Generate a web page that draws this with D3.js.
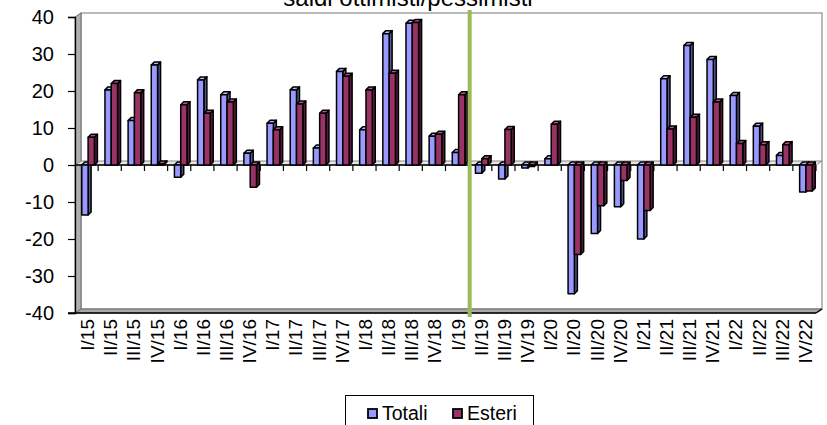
<!DOCTYPE html>
<html><head><meta charset="utf-8">
<script src="https://cdn.jsdelivr.net/npm/d3@7"></script>
<style>body{margin:0;background:#fff}svg{display:block}</style>
</head><body><svg id="c" width="827" height="425"></svg>
<script>
const title = "saldi ottimisti/pessimisti";
const categories = ["I/15","II/15","III/15","IV/15","I/16","II/16","III/16","IV/16","I/17","II/17","III/17","IV/17","I/18","II/18","III/18","IV/18","I/19","II/19","III/19","IV/19","I/20","II/20","III/20","IV/20","I/21","II/21","III/21","IV/21","I/22","II/22","III/22","IV/22"];
const totali = [-13.5,20.3,12,27,-3.3,23,19,3.2,11.3,20.3,4.6,25.3,9.5,35.5,38.3,7.8,3.4,-2.2,-3.8,-0.8,1.7,-34.8,-18.5,-11.3,-20,23.3,32.3,28.5,18.8,10.5,2.6,-7.3];
const esteri = [7.5,22,19.5,0.3,16.3,14,17,-6,9.5,16.5,14,24,20.3,24.8,38.5,8.3,19,1.7,9.6,-0.4,11,-24.2,-11,-4.2,-12.3,9.7,12.9,17,5.8,5.5,5.5,-7];
const yTicks = [-40,-30,-20,-10,0,10,20,30,40];
const seriesNames = ["Totali","Esteri"];
const markerLine = "II/19";

const svg = d3.select("#c");
const font = "Arial, 'Liberation Sans', sans-serif";
const L = 75, R = 816, T = 17, B = 313, DX = 6, DY = 4;
const y = d3.scaleLinear().domain([-40,40]).range([B,T]);
const x = d3.scaleBand().domain(categories).range([L,R]).padding(0);
const y0 = y(0);

// back wall
svg.append("rect").attr("x",L+DX).attr("y",T-DY).attr("width",R-L).attr("height",B-T)
  .attr("fill","#fff").attr("stroke","#8c8c8c").attr("stroke-width",1.2);
// left wall
svg.append("polygon").attr("points",[[L,T],[L+DX,T-DY],[L+DX,B-DY],[L,B]].join(" "))
  .attr("fill","#b0b0b0").attr("stroke","#6e6e6e").attr("stroke-width",1);
// floor
svg.append("polygon").attr("points",[[L,B],[L+DX,B-DY],[R+DX,B-DY],[R,B]].join(" "))
  .attr("fill","#a8a8a8").attr("stroke","#6e6e6e").attr("stroke-width",1);
// zero plane
svg.append("polygon").attr("points",[[L,y0],[L+DX,y0-DY],[R+DX,y0-DY],[R,y0]].join(" "))
  .attr("fill","#e6e6e6").attr("stroke","#8a8a8a").attr("stroke-width",1);
svg.append("line").attr("x1",L).attr("x2",R).attr("y1",y0).attr("y2",y0).attr("stroke","#000").attr("stroke-width",1.4);

// axes
const yAxis = d3.axisLeft(y).tickValues(yTicks).tickSize(7).tickFormat(d=>String(d));
const ya = svg.append("g").attr("transform",`translate(${L},0)`).call(yAxis);
ya.select(".domain").attr("stroke","#000").attr("stroke-width",1.3);
ya.selectAll(".tick line").attr("stroke","#000").attr("stroke-width",1.2);
ya.selectAll(".tick text").attr("font-family",font).attr("font-size",20).attr("fill","#000").attr("x",-21);
svg.append("line").attr("x1",L-7).attr("x2",R).attr("y1",B).attr("y2",B).attr("stroke","#000").attr("stroke-width",1.5);
svg.append("line").attr("x1",R).attr("x2",R+DX).attr("y1",B).attr("y2",B-DY).attr("stroke","#000").attr("stroke-width",1.5);

// category ticks on zero line
svg.append("g").selectAll("line").data(categories).join("line")
  .attr("x1",d=>x(d)+x.bandwidth()).attr("x2",d=>x(d)+x.bandwidth())
  .attr("y1",y0).attr("y2",y0+6).attr("stroke","#000").attr("stroke-width",1.2);

// bars
const bw = 6.3, bd = 3;
const cols = [
  {front:"#9999ff", top:"#b8b8ff", side:"#55558f"},
  {front:"#993366", top:"#b85585", side:"#571b3a"}
];
const data = categories.map((c,i)=>({c, vals:[totali[i], esteri[i]]}));
const gBars = svg.append("g");
data.forEach(d=>{
  d.vals.forEach((v,k)=>{
    const x0 = x(d.c) + 6.8 + k*bw;
    const yt = Math.min(y(v), y0), yb = Math.max(y(v), y0);
    const col = cols[k];
    const g = gBars.append("g").attr("stroke","#000").attr("stroke-width",1.5).attr("stroke-linejoin","round");
    g.append("polygon").attr("points",[[x0+bw,yt],[x0+bw+bd,yt-bd],[x0+bw+bd,yb-bd],[x0+bw,yb]].join(" ")).attr("fill",col.side);
    g.append("polygon").attr("points",[[x0,yt],[x0+bd,yt-bd],[x0+bw+bd,yt-bd],[x0+bw,yt]].join(" ")).attr("fill",col.top);
    g.append("rect").attr("x",x0).attr("y",yt).attr("width",bw).attr("height",Math.max(yb-yt,0.5)).attr("fill",col.front);
  });
});

// marker line
const mx = x(markerLine);
svg.append("line").attr("x1",mx+1).attr("x2",mx+1).attr("y1",10).attr("y2",317)
  .attr("stroke","#9bbb59").attr("stroke-width",4);

// x labels
svg.append("g").selectAll("text").data(categories).join("text")
  .attr("transform",d=>`translate(${x(d)+x.bandwidth()/2+1},319) rotate(-90)`)
  .attr("text-anchor","end").attr("dominant-baseline","central")
  .attr("font-family",font).attr("font-size",19).attr("fill","#000").text(d=>d);

// title
svg.append("text").attr("x",408).attr("y",6).attr("text-anchor","middle")
  .attr("font-family",font).attr("font-size",24).attr("fill","#000").text(title);

// legend
const lg = svg.append("g");
lg.append("rect").attr("x",345.5).attr("y",395.5).attr("width",188).attr("height",40).attr("fill","#fff").attr("stroke","#000").attr("stroke-width",1);
const lx = [368, 453];
seriesNames.forEach((n,k)=>{
  lg.append("rect").attr("x",lx[k]).attr("y",409).attr("width",9).attr("height",9)
    .attr("fill",cols[k].front).attr("stroke","#000").attr("stroke-width",1.8);
  lg.append("text").attr("x",lx[k]+14).attr("y",420).attr("font-family",font).attr("font-size",19.5).attr("fill","#000").text(n);
});
</script></body></html>
